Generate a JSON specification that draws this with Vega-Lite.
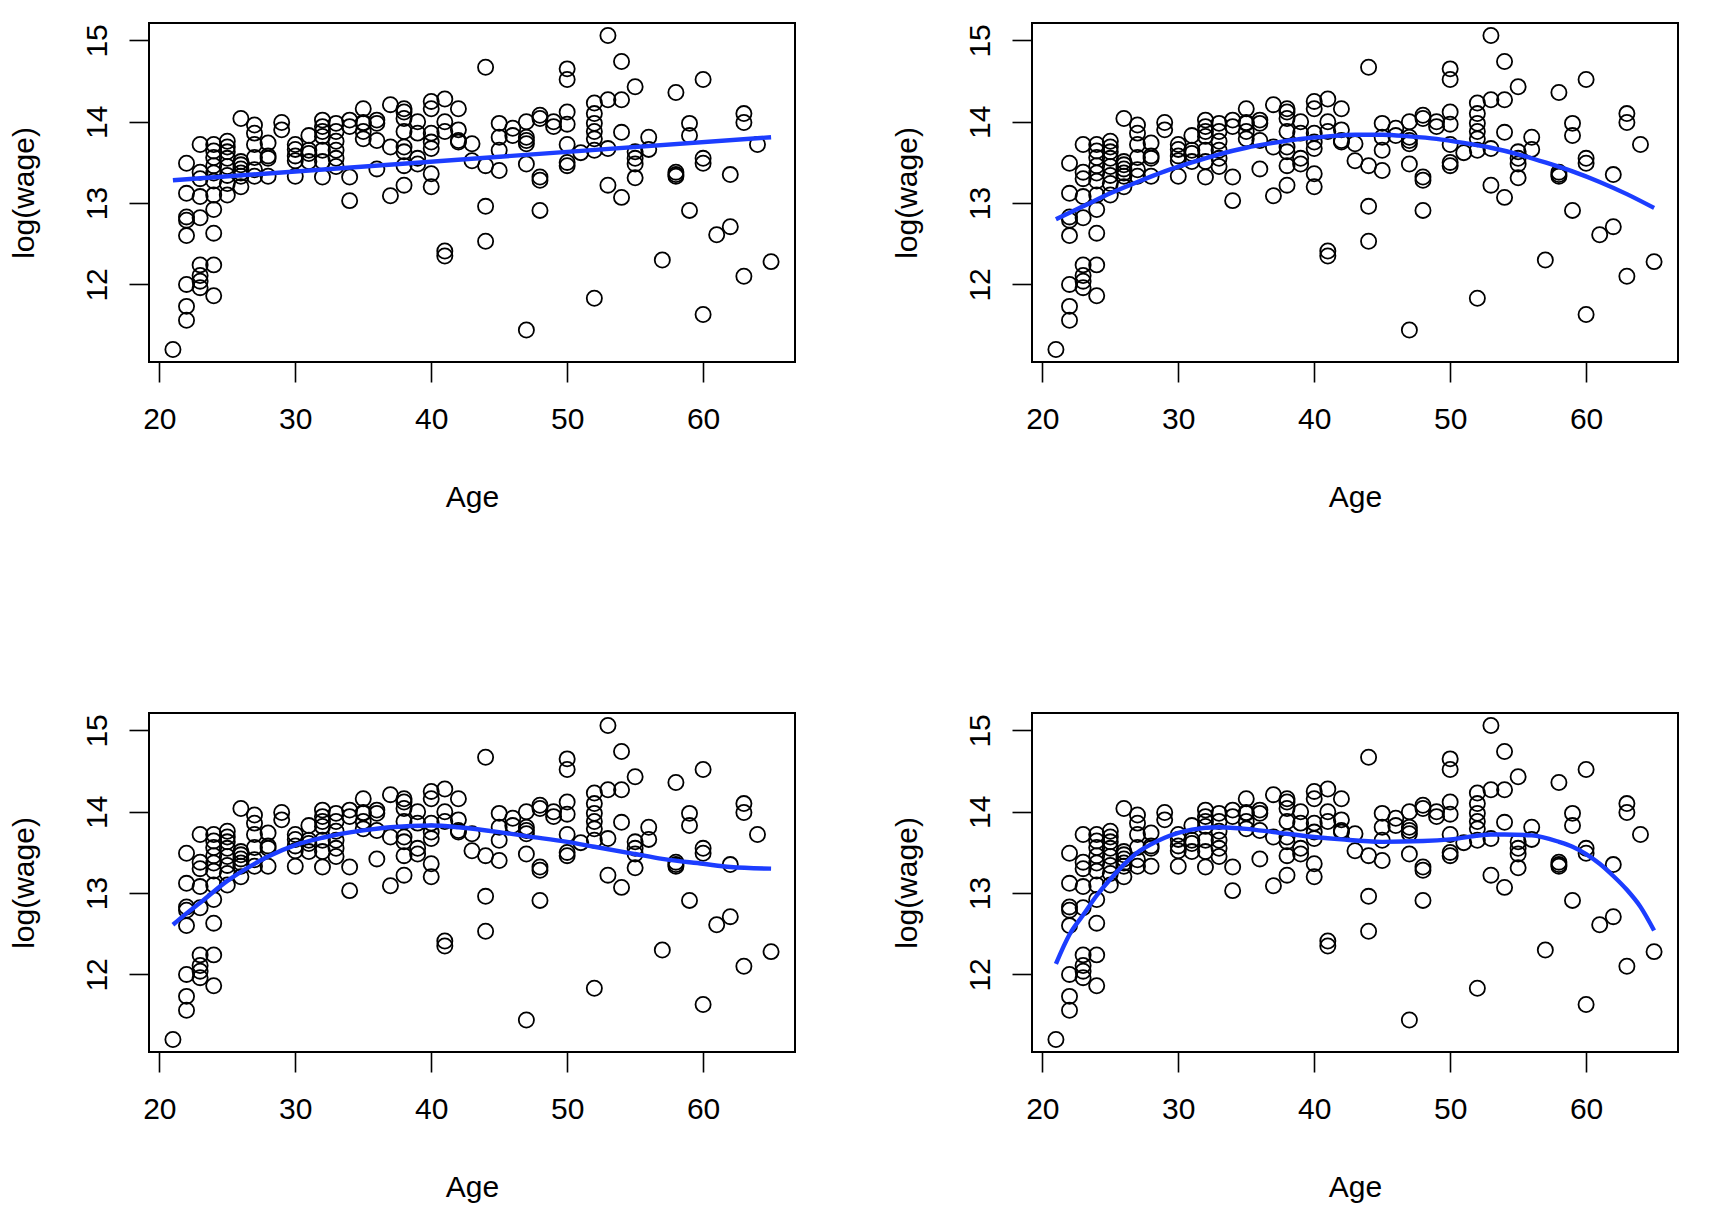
{
  "$schema": "https://vega.github.io/schema/vega-lite/v6.json",
  "background": "white",
  "padding": {"left": 8, "top": 22, "right": 5, "bottom": 5},
  "columns": 2,
  "spacing": {"column": 95, "row": 199},
  "datasets": {
    "pts": [
      {"age":21,"lw":11.20},
      {"age":22,"lw":13.49},{"age":22,"lw":13.12},{"age":22,"lw":12.83},{"age":22,"lw":12.79},{"age":22,"lw":12.60},{"age":22,"lw":12.00},{"age":22,"lw":11.73},{"age":22,"lw":11.56},
      {"age":23,"lw":13.72},{"age":23,"lw":13.38},{"age":23,"lw":13.30},{"age":23,"lw":13.08},{"age":23,"lw":12.82},{"age":23,"lw":12.24},{"age":23,"lw":12.11},{"age":23,"lw":12.04},{"age":23,"lw":11.96},
      {"age":24,"lw":13.72},{"age":24,"lw":13.64},{"age":24,"lw":13.56},{"age":24,"lw":13.46},{"age":24,"lw":13.37},{"age":24,"lw":13.27},{"age":24,"lw":13.10},{"age":24,"lw":12.92},{"age":24,"lw":12.63},{"age":24,"lw":12.24},{"age":24,"lw":11.86},
      {"age":25,"lw":13.76},{"age":25,"lw":13.69},{"age":25,"lw":13.63},{"age":25,"lw":13.55},{"age":25,"lw":13.45},{"age":25,"lw":13.34},{"age":25,"lw":13.24},{"age":25,"lw":13.10},
      {"age":26,"lw":14.04},{"age":26,"lw":13.51},{"age":26,"lw":13.47},{"age":26,"lw":13.42},{"age":26,"lw":13.37},{"age":26,"lw":13.33},{"age":26,"lw":13.20},
      {"age":27,"lw":13.96},{"age":27,"lw":13.86},{"age":27,"lw":13.72},{"age":27,"lw":13.56},{"age":27,"lw":13.41},{"age":27,"lw":13.33},
      {"age":28,"lw":13.74},{"age":28,"lw":13.58},{"age":28,"lw":13.55},{"age":28,"lw":13.33},
      {"age":29,"lw":13.99},{"age":29,"lw":13.90},
      {"age":30,"lw":13.72},{"age":30,"lw":13.66},{"age":30,"lw":13.58},{"age":30,"lw":13.52},{"age":30,"lw":13.33},
      {"age":31,"lw":13.83},{"age":31,"lw":13.65},{"age":31,"lw":13.61},{"age":31,"lw":13.51},
      {"age":32,"lw":14.02},{"age":32,"lw":13.94},{"age":32,"lw":13.88},{"age":32,"lw":13.82},{"age":32,"lw":13.65},{"age":32,"lw":13.51},{"age":32,"lw":13.32},
      {"age":33,"lw":13.98},{"age":33,"lw":13.88},{"age":33,"lw":13.76},{"age":33,"lw":13.65},{"age":33,"lw":13.55},{"age":33,"lw":13.45},
      {"age":34,"lw":14.02},{"age":34,"lw":13.94},{"age":34,"lw":13.32},{"age":34,"lw":13.03},
      {"age":35,"lw":14.16},{"age":35,"lw":13.99},{"age":35,"lw":13.98},{"age":35,"lw":13.88},{"age":35,"lw":13.79},
      {"age":36,"lw":14.02},{"age":36,"lw":13.98},{"age":36,"lw":13.77},{"age":36,"lw":13.42},
      {"age":37,"lw":14.21},{"age":37,"lw":13.69},{"age":37,"lw":13.09},
      {"age":38,"lw":14.16},{"age":38,"lw":14.12},{"age":38,"lw":14.04},{"age":38,"lw":13.88},{"age":38,"lw":13.69},{"age":38,"lw":13.63},{"age":38,"lw":13.46},{"age":38,"lw":13.22},
      {"age":39,"lw":14.00},{"age":39,"lw":13.86},{"age":39,"lw":13.55},{"age":39,"lw":13.48},
      {"age":40,"lw":14.25},{"age":40,"lw":14.16},{"age":40,"lw":13.86},{"age":40,"lw":13.75},{"age":40,"lw":13.67},{"age":40,"lw":13.36},{"age":40,"lw":13.20},
      {"age":41,"lw":14.28},{"age":41,"lw":14.00},{"age":41,"lw":13.88},{"age":41,"lw":12.41},{"age":41,"lw":12.35},
      {"age":42,"lw":14.16},{"age":42,"lw":13.90},{"age":42,"lw":13.77},{"age":42,"lw":13.75},
      {"age":43,"lw":13.73},{"age":43,"lw":13.52},
      {"age":44,"lw":14.67},{"age":44,"lw":13.46},{"age":44,"lw":12.96},{"age":44,"lw":12.53},
      {"age":45,"lw":13.98},{"age":45,"lw":13.81},{"age":45,"lw":13.65},{"age":45,"lw":13.40},
      {"age":46,"lw":13.92},{"age":46,"lw":13.83},
      {"age":47,"lw":14.00},{"age":47,"lw":13.81},{"age":47,"lw":13.77},{"age":47,"lw":13.73},{"age":47,"lw":13.48},{"age":47,"lw":11.44},
      {"age":48,"lw":14.08},{"age":48,"lw":14.04},{"age":48,"lw":13.32},{"age":48,"lw":13.28},{"age":48,"lw":12.91},
      {"age":49,"lw":14.00},{"age":49,"lw":13.94},
      {"age":50,"lw":14.65},{"age":50,"lw":14.52},{"age":50,"lw":14.12},{"age":50,"lw":13.97},{"age":50,"lw":13.72},{"age":50,"lw":13.50},{"age":50,"lw":13.46},
      {"age":51,"lw":13.62},
      {"age":52,"lw":14.23},{"age":52,"lw":14.10},{"age":52,"lw":13.98},{"age":52,"lw":13.88},{"age":52,"lw":13.79},{"age":52,"lw":13.65},{"age":52,"lw":11.83},
      {"age":53,"lw":15.06},{"age":53,"lw":14.27},{"age":53,"lw":13.67},{"age":53,"lw":13.22},
      {"age":54,"lw":14.74},{"age":54,"lw":14.27},{"age":54,"lw":13.87},{"age":54,"lw":13.07},
      {"age":55,"lw":14.43},{"age":55,"lw":13.63},{"age":55,"lw":13.55},{"age":55,"lw":13.48},{"age":55,"lw":13.31},
      {"age":56,"lw":13.81},{"age":56,"lw":13.66},
      {"age":57,"lw":12.30},
      {"age":58,"lw":14.36},{"age":58,"lw":13.38},{"age":58,"lw":13.35},{"age":58,"lw":13.33},
      {"age":59,"lw":13.98},{"age":59,"lw":13.83},{"age":59,"lw":12.91},
      {"age":60,"lw":14.52},{"age":60,"lw":13.55},{"age":60,"lw":13.49},{"age":60,"lw":11.63},
      {"age":61,"lw":12.61},
      {"age":62,"lw":13.35},{"age":62,"lw":12.71},
      {"age":63,"lw":14.10},{"age":63,"lw":13.99},{"age":63,"lw":12.10},
      {"age":64,"lw":13.72},
      {"age":65,"lw":12.28}
    ],
    "fit": [
      {"deg":1,"age":21,"lw":13.28},{"deg":1,"age":65,"lw":13.81},
      {"deg":2,"age":21,"lw":12.80},{"deg":2,"age":23,"lw":12.96},{"deg":2,"age":25,"lw":13.12},{"deg":2,"age":27,"lw":13.26},{"deg":2,"age":29,"lw":13.39},{"deg":2,"age":31,"lw":13.50},{"deg":2,"age":33,"lw":13.60},{"deg":2,"age":35,"lw":13.68},{"deg":2,"age":37,"lw":13.74},{"deg":2,"age":39,"lw":13.79},{"deg":2,"age":41,"lw":13.82},{"deg":2,"age":43,"lw":13.84},{"deg":2,"age":45,"lw":13.84},{"deg":2,"age":47,"lw":13.82},{"deg":2,"age":49,"lw":13.79},{"deg":2,"age":51,"lw":13.74},{"deg":2,"age":53,"lw":13.68},{"deg":2,"age":55,"lw":13.60},{"deg":2,"age":57,"lw":13.50},{"deg":2,"age":59,"lw":13.39},{"deg":2,"age":61,"lw":13.26},{"deg":2,"age":63,"lw":13.11},{"deg":2,"age":65,"lw":12.94},
      {"deg":3,"age":21,"lw":12.61},{"deg":3,"age":22,"lw":12.75},{"deg":3,"age":23,"lw":12.88},{"deg":3,"age":25,"lw":13.15},{"deg":3,"age":27,"lw":13.36},{"deg":3,"age":28,"lw":13.45},{"deg":3,"age":30,"lw":13.59},{"deg":3,"age":32,"lw":13.68},{"deg":3,"age":35,"lw":13.77},{"deg":3,"age":37,"lw":13.81},{"deg":3,"age":40,"lw":13.83},{"deg":3,"age":42,"lw":13.81},{"deg":3,"age":45,"lw":13.75},{"deg":3,"age":47,"lw":13.70},{"deg":3,"age":50,"lw":13.63},{"deg":3,"age":52,"lw":13.57},{"deg":3,"age":55,"lw":13.48},{"deg":3,"age":57,"lw":13.42},{"deg":3,"age":60,"lw":13.36},{"deg":3,"age":62,"lw":13.32},{"deg":3,"age":65,"lw":13.30},
      {"deg":4,"age":21,"lw":12.13},{"deg":4,"age":22,"lw":12.49},{"deg":4,"age":23,"lw":12.73},{"deg":4,"age":24,"lw":12.97},{"deg":4,"age":25,"lw":13.17},{"deg":4,"age":26,"lw":13.35},{"deg":4,"age":27,"lw":13.50},{"deg":4,"age":28,"lw":13.60},{"deg":4,"age":29,"lw":13.68},{"deg":4,"age":30,"lw":13.74},{"deg":4,"age":31,"lw":13.78},{"deg":4,"age":33,"lw":13.81},{"deg":4,"age":35,"lw":13.79},{"deg":4,"age":37,"lw":13.75},{"deg":4,"age":40,"lw":13.69},{"deg":4,"age":42,"lw":13.66},{"deg":4,"age":45,"lw":13.63},{"deg":4,"age":48,"lw":13.64},{"deg":4,"age":50,"lw":13.66},{"deg":4,"age":53,"lw":13.72},{"deg":4,"age":54,"lw":13.72},{"deg":4,"age":56,"lw":13.71},{"deg":4,"age":58,"lw":13.63},{"deg":4,"age":59,"lw":13.57},{"deg":4,"age":60,"lw":13.48},{"deg":4,"age":61,"lw":13.36},{"deg":4,"age":62,"lw":13.21},{"deg":4,"age":63,"lw":13.04},{"deg":4,"age":64,"lw":12.83},{"deg":4,"age":65,"lw":12.54}
    ]
  },
  "concat": [
    {
      "width": 646, "height": 339,
      "layer": [
        {"data": {"name": "pts"}, "mark": {"type": "point", "shape": "circle", "filled": false, "stroke": "black", "strokeWidth": 1.8, "size": 230, "opacity": 1},
         "encoding": {"x": {"field": "age", "type": "quantitative", "title": "Age", "axis": {"values": [20, 30, 40, 50, 60], "format": "d"}, "scale": {"domain": [19.24, 66.76], "nice": false, "zero": false}},
                      "y": {"field": "lw", "type": "quantitative", "title": "log(wage)", "axis": {"values": [12, 13, 14, 15], "format": "d"}, "scale": {"domain": [11.046, 15.214], "nice": false, "zero": false}}}},
        {"data": {"name": "fit"}, "transform": [{"filter": "datum.deg == 1"}], "mark": {"type": "line", "color": "#1c3dff", "strokeWidth": 4.4},
         "encoding": {"x": {"field": "age", "type": "quantitative"}, "y": {"field": "lw", "type": "quantitative"}}}
      ]
    },
    {
      "width": 646, "height": 339,
      "layer": [
        {"data": {"name": "pts"}, "mark": {"type": "point", "shape": "circle", "filled": false, "stroke": "black", "strokeWidth": 1.8, "size": 230, "opacity": 1},
         "encoding": {"x": {"field": "age", "type": "quantitative", "title": "Age", "axis": {"values": [20, 30, 40, 50, 60], "format": "d"}, "scale": {"domain": [19.24, 66.76], "nice": false, "zero": false}},
                      "y": {"field": "lw", "type": "quantitative", "title": "log(wage)", "axis": {"values": [12, 13, 14, 15], "format": "d"}, "scale": {"domain": [11.046, 15.214], "nice": false, "zero": false}}}},
        {"data": {"name": "fit"}, "transform": [{"filter": "datum.deg == 2"}], "mark": {"type": "line", "color": "#1c3dff", "strokeWidth": 4.4, "interpolate": "monotone"},
         "encoding": {"x": {"field": "age", "type": "quantitative"}, "y": {"field": "lw", "type": "quantitative"}}}
      ]
    },
    {
      "width": 646, "height": 339,
      "layer": [
        {"data": {"name": "pts"}, "mark": {"type": "point", "shape": "circle", "filled": false, "stroke": "black", "strokeWidth": 1.8, "size": 230, "opacity": 1},
         "encoding": {"x": {"field": "age", "type": "quantitative", "title": "Age", "axis": {"values": [20, 30, 40, 50, 60], "format": "d"}, "scale": {"domain": [19.24, 66.76], "nice": false, "zero": false}},
                      "y": {"field": "lw", "type": "quantitative", "title": "log(wage)", "axis": {"values": [12, 13, 14, 15], "format": "d"}, "scale": {"domain": [11.046, 15.214], "nice": false, "zero": false}}}},
        {"data": {"name": "fit"}, "transform": [{"filter": "datum.deg == 3"}], "mark": {"type": "line", "color": "#1c3dff", "strokeWidth": 4.4, "interpolate": "monotone"},
         "encoding": {"x": {"field": "age", "type": "quantitative"}, "y": {"field": "lw", "type": "quantitative"}}}
      ]
    },
    {
      "width": 646, "height": 339,
      "layer": [
        {"data": {"name": "pts"}, "mark": {"type": "point", "shape": "circle", "filled": false, "stroke": "black", "strokeWidth": 1.8, "size": 230, "opacity": 1},
         "encoding": {"x": {"field": "age", "type": "quantitative", "title": "Age", "axis": {"values": [20, 30, 40, 50, 60], "format": "d"}, "scale": {"domain": [19.24, 66.76], "nice": false, "zero": false}},
                      "y": {"field": "lw", "type": "quantitative", "title": "log(wage)", "axis": {"values": [12, 13, 14, 15], "format": "d"}, "scale": {"domain": [11.046, 15.214], "nice": false, "zero": false}}}},
        {"data": {"name": "fit"}, "transform": [{"filter": "datum.deg == 4"}], "mark": {"type": "line", "color": "#1c3dff", "strokeWidth": 4.4, "interpolate": "monotone"},
         "encoding": {"x": {"field": "age", "type": "quantitative"}, "y": {"field": "lw", "type": "quantitative"}}}
      ]
    }
  ],
  "config": {
    "view": {"stroke": "black", "strokeWidth": 2},
    "axis": {
      "domain": false,
      "grid": false,
      "tickColor": "black",
      "tickWidth": 1.6,
      "tickSize": 20,
      "labelFont": "Liberation Sans",
      "labelFontSize": 30,
      "labelColor": "black",
      "titleFont": "Liberation Sans",
      "titleFontSize": 30,
      "titleFontWeight": "normal",
      "titleColor": "black"
    },
    "axisX": {"labelPadding": 22, "titlePadding": 48},
    "axisY": {"labelAngle": -90, "labelAlign": "center", "labelBaseline": "alphabetic", "labelPadding": 23, "titlePadding": 43}
  }
}
